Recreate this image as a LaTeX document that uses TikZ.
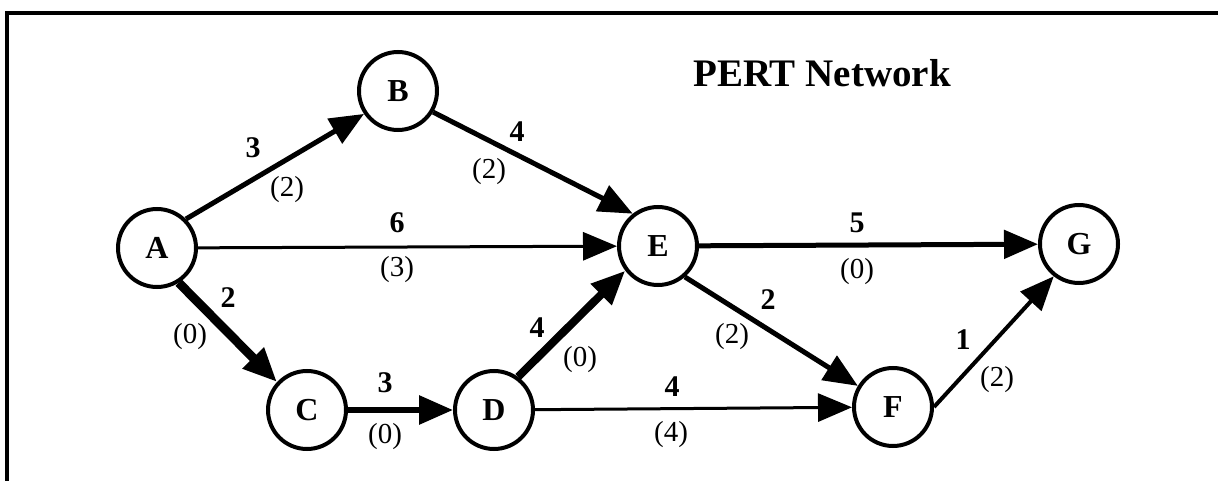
\documentclass[tikz,border=0pt]{standalone}
\usepackage{fontspec}
\setmainfont{Liberation Serif}
\usetikzlibrary{arrows.meta}

\begin{document}
\begin{tikzpicture}[x=1pt, y=-1pt,
  event/.style={circle, draw, line width=4pt, minimum size=78pt, inner sep=0pt,
                font=\fontsize{32}{34}\selectfont\bfseries},
  dur/.style={inner sep=1pt, font=\fontsize{30}{32}\selectfont\bfseries},
  slack/.style={inner sep=1pt, font=\fontsize{29}{32}\selectfont},
  arr/.style={-{Triangle[length=34pt, width=28pt]}, line width=#1},
  arr/.default=5pt
]
  \useasboundingbox (0,0) rectangle (1218,481);
  \draw[line width=4pt] (1218,13) -- (7,13) -- (7,481);
  \node[font=\fontsize{39}{42}\selectfont\bfseries] (title) at (822,73) {PERT Network};

  \node[event] (A) at (157,248) {A};
  \node[event] (B) at (398,91)  {B};
  \node[event] (C) at (307,410) {C};
  \node[event] (D) at (494,410) {D};
  \node[event] (E) at (658,246) {E};
  \node[event] (F) at (893,407) {F};
  \node[event] (G) at (1079,244) {G};

  \draw[arr]      (A.45)  -- (B.214);
  \draw[arr=3pt]  (A)     -- (E);
  \draw[arr=9pt]  (A.-58) -- (C.137);
  \draw[arr]      (B.-31) -- (E.128);
  \draw[arr=6pt]  (C)     -- (D);
  \draw[arr=8pt]  (D.54)  -- (E.217);
  \draw[arr=3pt]  (D)     -- (F);
  \draw[arr]      (E)     -- (G);
  \draw[arr]      (E.-49) -- (F.149);
  \draw[arr=4pt]  (F.east) -- (G.232);

  % durations and slack
  \node[dur]   (dAB) at (253,148) {3};
  \node[slack] (sAB) at (287,190) {(2)};
  \node[dur]   (dBE) at (517,132) {4};
  \node[slack] (sBE) at (489,172) {(2)};
  \node[dur]   (dAE) at (397,223) {6};
  \node[slack] (sAE) at (397,270) {(3)};
  \node[dur]   (dAC) at (228,298) {2};
  \node[slack] (sAC) at (190,337) {(0)};
  \node[dur]   (dCD) at (385,383) {3};
  \node[slack] (sCD) at (385,437) {(0)};
  \node[dur]   (dDE) at (537,328) {4};
  \node[slack] (sDE) at (580,360) {(0)};
  \node[dur]   (dEG) at (857,223) {5};
  \node[slack] (sEG) at (857,272) {(0)};
  \node[dur]   (dEF) at (768,300) {2};
  \node[slack] (sEF) at (732,337) {(2)};
  \node[dur]   (dDF) at (672,387) {4};
  \node[slack] (sDF) at (671,435) {(4)};
  \node[dur]   (dFG) at (963,340) {1};
  \node[slack] (sFG) at (997,380) {(2)};
\end{tikzpicture}
\end{document}
